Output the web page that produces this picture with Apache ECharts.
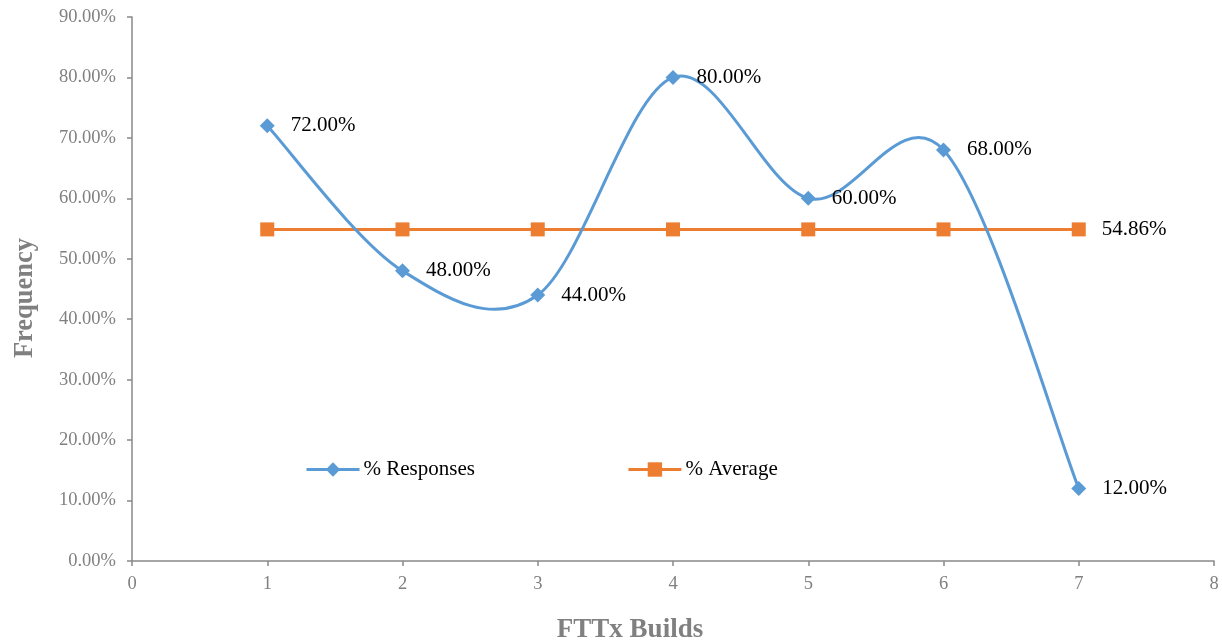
<!DOCTYPE html>
<html>
<head>
<meta charset="utf-8">
<script src="https://cdn.jsdelivr.net/npm/echarts@6/dist/echarts.min.js"></script>
<style>
  html, body { margin: 0; padding: 0; background: #fff; }
  #chart { width: 1222px; height: 642px; }
</style>
</head>
<body>
<div id="chart"></div>
<script>
// FTTx builds and their response frequency (percent)
const builds = [1, 2, 3, 4, 5, 6, 7];
const responses = [72.00, 48.00, 44.00, 80.00, 60.00, 68.00, 12.00];
const averageValue = 54.86;
const average = builds.map(() => averageValue);
const seriesNames = ['% Responses', '% Average'];
const xTitle = 'FTTx Builds';
const yTitle = 'Frequency';

const FONT = '"Liberation Serif", "Times New Roman", serif';
const AXIS_GRAY = '#898989';
const LABEL_GRAY = '#808080';
const BLUE = '#5B9BD5';
const ORANGE = '#ED7D31';

const chart = echarts.init(document.getElementById('chart'), null, { renderer: 'canvas' });

const pct = v => v.toFixed(2) + '%';

// Smoothed curve segment i -> i+1 (cardinal spline, neighbours repeated at the ends),
// drawn in pixel space from the axis coordinates of the data points.
function renderCurveSegment(params, api) {
  const i = params.dataIndex;
  const n = builds.length;
  if (i >= n - 1) return null;
  const pt = k => {
    const j = Math.max(0, Math.min(n - 1, k));
    return api.coord([builds[j], responses[j]]);
  };
  const p0 = pt(i - 1), p1 = pt(i), p2 = pt(i + 1), p3 = pt(i + 2);
  const t = 1 / 6;
  return {
    type: 'bezierCurve',
    shape: {
      x1: p1[0], y1: p1[1],
      x2: p2[0], y2: p2[1],
      cpx1: p1[0] + (p2[0] - p0[0]) * t, cpy1: p1[1] + (p2[1] - p0[1]) * t,
      cpx2: p2[0] - (p3[0] - p1[0]) * t, cpy2: p2[1] - (p3[1] - p1[1]) * t
    },
    style: { stroke: BLUE, lineWidth: 3, fill: null, lineCap: 'round' },
    silent: true
  };
}

chart.setOption({
  animation: false,
  backgroundColor: '#ffffff',
  grid: { left: 132, right: 8, top: 17, bottom: 81, containLabel: false },
  xAxis: {
    type: 'value',
    min: 0, max: 8, interval: 1,
    axisLine: { show: true, lineStyle: { color: AXIS_GRAY, width: 1.5 } },
    axisTick: { show: true, inside: false, length: 5, lineStyle: { color: AXIS_GRAY, width: 1.5 } },
    axisLabel: { color: LABEL_GRAY, fontFamily: FONT, fontSize: 18.5, margin: 14 },
    splitLine: { show: false }
  },
  yAxis: {
    type: 'value',
    min: 0, max: 90, interval: 10,
    axisLine: { show: true, lineStyle: { color: AXIS_GRAY, width: 1.5 } },
    axisTick: { show: true, inside: false, length: 5, lineStyle: { color: AXIS_GRAY, width: 1.5 } },
    axisLabel: { color: LABEL_GRAY, fontFamily: FONT, fontSize: 18.5, margin: 16, formatter: v => pct(v) },
    splitLine: { show: false }
  },
  legend: {
    left: 305, top: 459,
    padding: 0,
    itemWidth: 53, itemHeight: 18,
    itemGap: 152,
    textStyle: { color: '#000', fontFamily: FONT, fontSize: 21, padding: [0, 0, 0, -1] },
    data: [
      { name: seriesNames[0], lineStyle: { color: BLUE, width: 3, opacity: 1 } },
      { name: seriesNames[1], lineStyle: { color: ORANGE, width: 3, opacity: 1 } }
    ]
  },
  graphic: [
    {
      type: 'text',
      x: 630, y: 630,
      style: { text: xTitle, font: 'bold 27px ' + FONT, fill: LABEL_GRAY, textAlign: 'center', textVerticalAlign: 'middle' }
    },
    {
      type: 'text',
      x: 25, y: 298, rotation: Math.PI / 2,
      style: { text: yTitle, font: 'bold 26.5px ' + FONT, fill: LABEL_GRAY, textAlign: 'center', textVerticalAlign: 'middle' }
    }
  ],
  series: [
    {
      name: 'responses-curve',
      type: 'custom',
      z: 3,
      renderItem: renderCurveSegment,
      data: builds.map((b, i) => [b, responses[i]])
    },
    {
      name: seriesNames[0],
      type: 'line',
      z: 4,
      data: builds.map((b, i) => [b, responses[i]]),
      symbol: 'diamond',
      symbolSize: 15,
      showAllSymbol: true,
      itemStyle: { color: BLUE },
      lineStyle: { color: BLUE, width: 3, opacity: 0 },
      label: {
        show: true, position: 'right', distance: 16,
        color: '#000', fontFamily: FONT, fontSize: 21,
        formatter: p => pct(p.value[1])
      }
    },
    {
      name: seriesNames[1],
      type: 'line',
      z: 2,
      data: builds.map((b, i) => [b, average[i]]),
      symbol: 'rect',
      symbolSize: 14,
      itemStyle: { color: ORANGE },
      lineStyle: { color: ORANGE, width: 3 },
      label: {
        show: true, position: 'right', distance: 16,
        color: '#000', fontFamily: FONT, fontSize: 21,
        formatter: p => (p.dataIndex === builds.length - 1 ? pct(p.value[1]) : '')
      }
    }
  ]
});
</script>
</body>
</html>
